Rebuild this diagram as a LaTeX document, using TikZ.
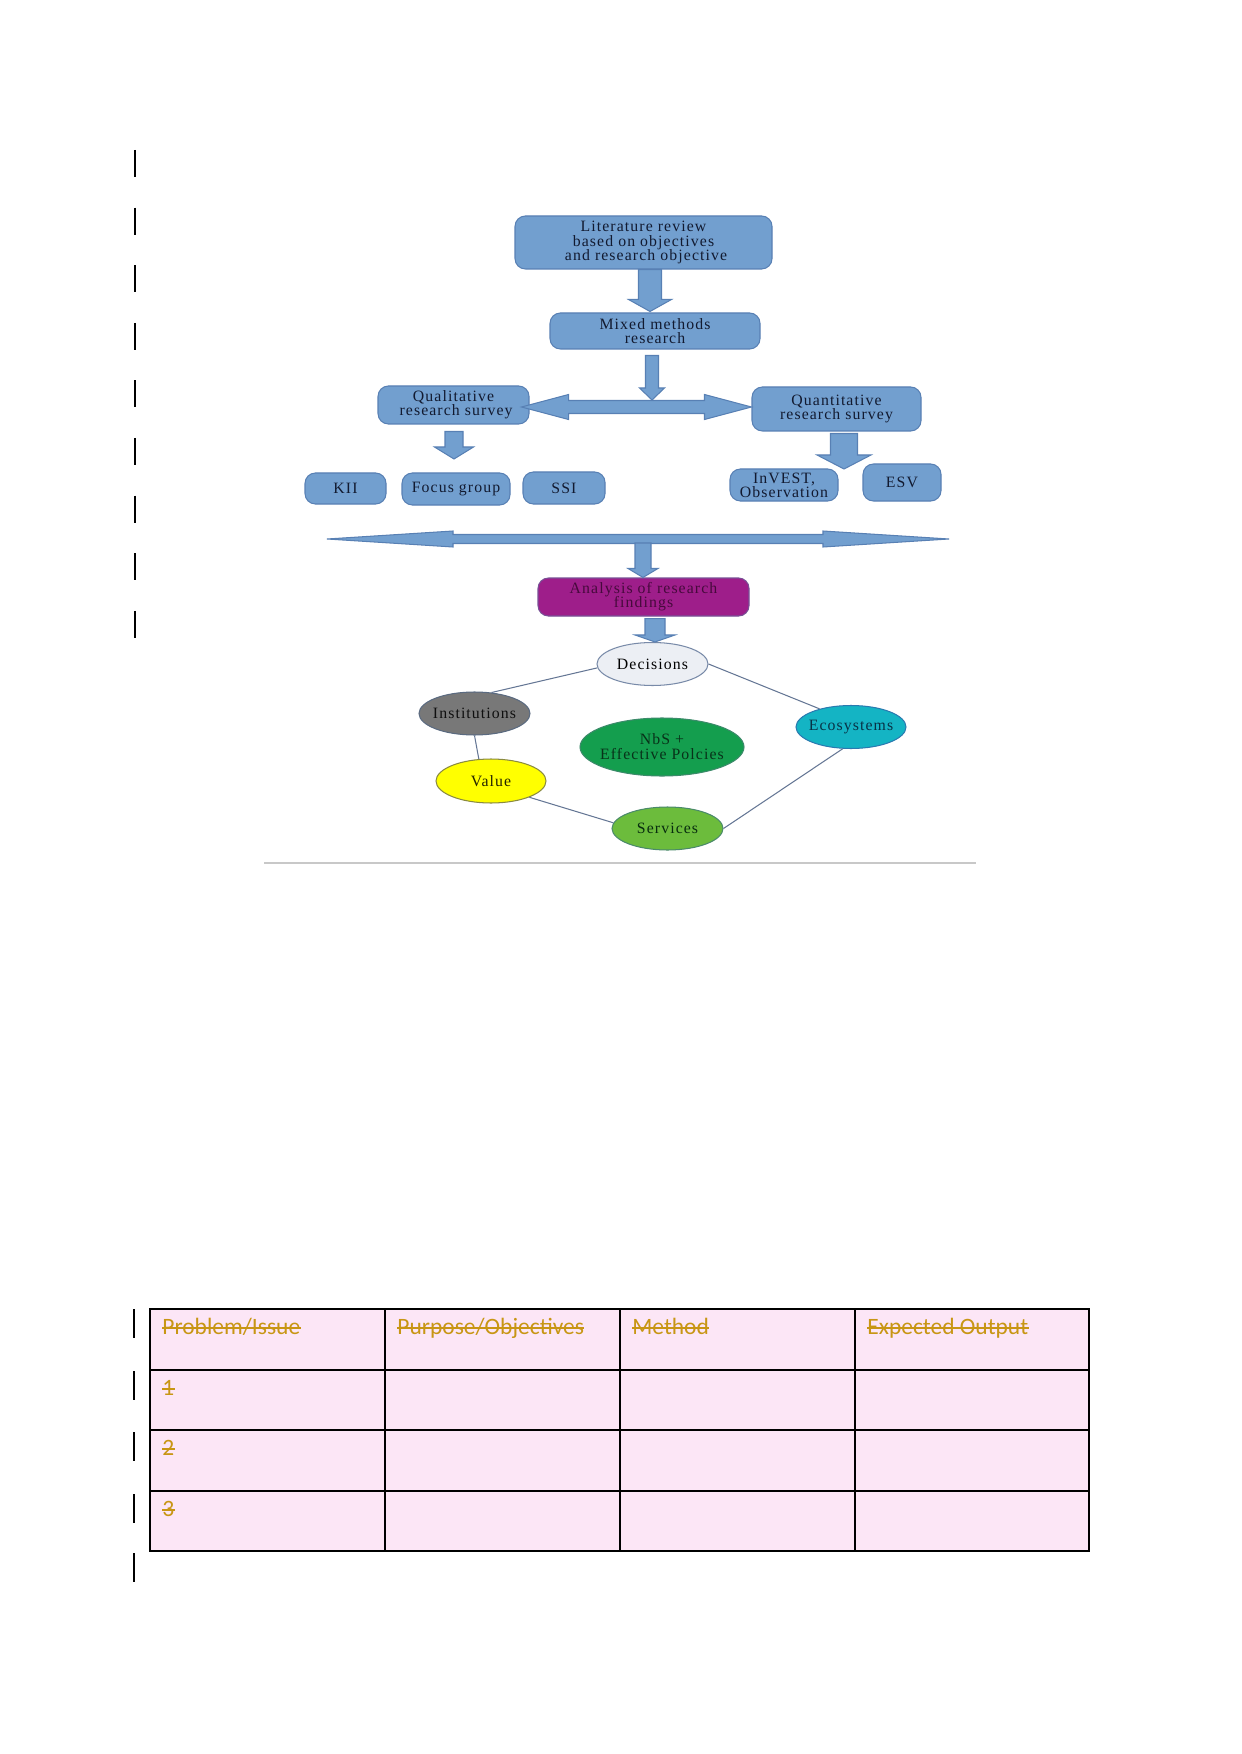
\documentclass[tikz,border=0pt]{standalone}
\usepackage{fontspec}
\setmainfont{Liberation Serif}
\newfontfamily\dfont[LetterSpace=7]{Liberation Serif}
\newfontfamily\tfont{Carlito}
\usetikzlibrary{shapes.geometric,calc}
\newcommand\pxl{0.16922mm}
\definecolor{boxfill}{RGB}{114,159,207}
\definecolor{boxline}{RGB}{88,128,180}
\definecolor{boxtext}{RGB}{18,26,48}
\definecolor{anafill}{RGB}{158,30,138}
\definecolor{anatext}{RGB}{70,10,60}
\definecolor{linkcol}{RGB}{100,118,148}
\definecolor{decfill}{RGB}{236,239,244}
\definecolor{instfill}{RGB}{120,120,120}
\definecolor{nbsfill}{RGB}{20,158,78}
\definecolor{ecofill}{RGB}{20,180,196}
\definecolor{valfill}{RGB}{255,255,0}
\definecolor{servfill}{RGB}{108,188,60}
\definecolor{tabfill}{RGB}{252,230,246}
\definecolor{tabtext}{RGB}{200,150,20}
\newcommand\vblock[5]{%
  \filldraw[blockarrow] ($(#1)+(-#3,0)$) -- ($(#2)+(-#3,-#5)$) -- ($(#2)+(-#4,-#5)$) -- (#2) -- ($(#2)+(#4,-#5)$) -- ($(#2)+(#3,-#5)$) -- ($(#1)+(#3,0)$) -- cycle;}
\newcommand\hdouble[5]{%
  \filldraw[blockarrow] (#1) -- ($(#1)+(#5,-#4)$) -- ($(#1)+(#5,-#3)$) -- ($(#2)+(-#5,-#3)$) -- ($(#2)+(-#5,-#4)$) -- (#2) -- ($(#2)+(-#5,#4)$) -- ($(#2)+(-#5,#3)$) -- ($(#1)+(#5,#3)$) -- ($(#1)+(#5,#4)$) -- cycle;}
\newcommand\strike[1]{\draw[strikeline] ($(#1.base west)+(0,-6)$) -- ($(#1.base east)+(0,-6)$);}
\tikzset{
  dtext/.style={font={\dfont\fontsize{7.6}{6.8}\selectfont\lineskiplimit=-10pt}},
  box/.style={draw=boxline, fill=boxfill, rounded corners=5pt, line width=0.5pt, inner sep=0pt, align=center, dtext, text=boxtext},
  bw/.style={minimum width={#1*\pxl}},
  bh/.style={minimum height={#1*\pxl}},
  oval/.style={ellipse, line width=0.5pt, inner sep=0pt},
  ltext/.style={dtext, align=center, inner sep=0pt},
  blockarrow/.style={fill=boxfill, draw=boxline, line width=0.5pt, line join=miter},
  link/.style={draw=linkcol, line width=0.5pt},
  bar/.style={draw=black, line width=1pt},
  grid/.style={draw=black, line width=0.7pt},
  celltext/.style={anchor=base west, inner sep=0pt, text=tabtext, font={\tfont\fontsize{11.3}{13}\selectfont}},
  strikeline/.style={draw=tabtext, line width=0.6pt}
}
\begin{document}
\begin{tikzpicture}[x=0.16922mm, y=-0.16922mm]
\useasboundingbox (0,0) rectangle (1241,1754);
\fill[white] (0,0) rectangle (1241,1754);

% margin change bars
\foreach \k in {0,...,8} \draw[bar] (135,{150+57.6*\k}) -- ++(0,27);
\foreach \yy in {1309,1371,1432,1494,1553} \draw[bar] (134,\yy) -- ++(0,29);

% boxes
\node[box, bw=257, bh=53] (lit) at (643.5,242.5) {Literature review\\based on objectives\\\ and research objective};
\node[box, bw=210, bh=36] (mixed) at (655,331) {Mixed methods\\research};
\node[box, bw=151, bh=38] (qual) at (453.5,405) {Qualitative\\\ research survey};
\node[box, bw=169, bh=44] (quant) at (836.5,409) {Quantitative\\research survey};
\node[box, bw=81, bh=31] (kii) at (345.5,488.5) {KII};
\node[box, bw=108, bh=32] (focus) at (456,489) {Focus group};
\node[box, bw=82, bh=32] (ssi) at (564,488) {SSI};
\node[box, bw=108, bh=32] (invest) at (784,485) {InVEST,\\Observation};
\node[box, bw=78, bh=37] (esv) at (902,482.5) {ESV};
\node[box, bw=211, bh=38, fill=anafill, draw={rgb,255:red,120;green,80;blue,150}, text=anatext] (ana) at (643.5,597) {Analysis of research\\findings};

% ellipses
\node[oval, draw={rgb,255:red,120;green,138;blue,168}, fill=decfill, minimum width={111*\pxl}, minimum height={43*\pxl},
  label={[ltext, text=black]center:Decisions}] (dec) at (652.5,664) {};
\node[oval, draw={rgb,255:red,90;green,106;blue,128}, fill=instfill, minimum width={111*\pxl}, minimum height={43*\pxl},
  label={[ltext, text={rgb,255:red,15;green,15;blue,15}]center:Institutions}] (inst) at (474.5,713.5) {};
\node[oval, draw={rgb,255:red,60;green,138;blue,106}, fill=nbsfill, minimum width={164*\pxl}, minimum height={58*\pxl},
  label={[ltext, text={rgb,255:red,8;green,50;blue,25}, font={\dfont\fontsize{7.6}{7.2}\selectfont\lineskiplimit=-10pt}]center:NbS +\\Effective Polcies}] (nbs) at (662,747) {};
\node[oval, draw={rgb,255:red,42;green,122;blue,176}, fill=ecofill, minimum width={110*\pxl}, minimum height={43*\pxl},
  label={[ltext, text={rgb,255:red,8;green,50;blue,70}]center:Ecosystems}] (eco) at (851,727) {};
\node[oval, draw={rgb,255:red,138;green,138;blue,64}, fill=valfill, minimum width={110*\pxl}, minimum height={44*\pxl},
  label={[ltext, text={rgb,255:red,35;green,35;blue,0}]center:Value}] (val) at (491,781) {};
\node[oval, draw={rgb,255:red,74;green,138;blue,106}, fill=servfill, minimum width={111*\pxl}, minimum height={43*\pxl},
  label={[ltext, text={rgb,255:red,8;green,45;blue,15}]center:Services}] (serv) at (667.5,828.5) {};

% links
\draw[link] (dec.184) -- (inst.51);
\draw[link] (dec.east) -- (eco.150);
\draw[link] (inst.south) -- (val.119);
\draw[link] (val.-23) -- (serv.174);
\draw[link] (serv.east) -- (eco.249);

% block arrows
\coordinate (a1s) at ($(lit.south)+(6.5,0)$);
\coordinate (a1t) at ($(mixed.north)+(-5,-1)$);
\vblock{a1s}{a1t}{11.5}{21.5}{12}
\coordinate (a2s) at ($(mixed.south)+(-3,6)$);
\coordinate (split) at (652,400);
\vblock{a2s}{split}{6.5}{12.5}{12}
\coordinate (qL) at ($(qual.east)+(-8,2)$);
\coordinate (qR) at ($(quant.west)+(0,-2)$);
\hdouble{qL}{qR}{6.5}{12.5}{47}
\coordinate (a4s) at ($(qual.south)+(0.5,7)$);
\coordinate (a4t) at (454,459);
\vblock{a4s}{a4t}{9}{19.5}{12}
\coordinate (a5s) at ($(quant.south)+(7.5,2)$);
\coordinate (a5t) at (844,469);
\vblock{a5s}{a5t}{13.5}{27}{14}
\coordinate (bigL) at (327,539);
\coordinate (bigR) at (949,539);
\hdouble{bigL}{bigR}{4.5}{8}{126}
\coordinate (bigC) at (643,543);
\coordinate (a7t) at ($(ana.north)+(-0.5,0)$);
\vblock{bigC}{a7t}{8}{15}{9}
\coordinate (a8s) at ($(ana.south)+(11.5,2)$);
\coordinate (a8t) at ($(dec.north)+(2.5,0)$);
\vblock{a8s}{a8t}{10}{20}{7}

% rule
\draw[draw={rgb,255:red,200;green,200;blue,200}, line width=0.8pt] (264,863) -- (976,863);

% table
\fill[tabfill] (150,1309) rectangle (1089,1551);
\draw[grid] (150,1309) rectangle (1089,1551);
\foreach \yy in {1370,1430,1491} \draw[grid] (150,\yy) -- (1089,\yy);
\foreach \xx in {385,620,855} \draw[grid] (\xx,1309) -- (\xx,1551);
\node[celltext] (h1) at (162,1334) {Problem/Issue};
\node[celltext] (h2) at (397,1334) {Purpose/Objectives};
\node[celltext] (h3) at (632,1334) {Method};
\node[celltext] (h4) at (867,1334) {Expected Output};
\node[celltext] (r1) at (162,1395) {1};
\node[celltext] (r2) at (162,1455) {2};
\node[celltext] (r3) at (162,1516) {3};
\foreach \n in {h1,h2,h3,h4,r1,r2,r3} {\strike{\n}}
\end{tikzpicture}
\end{document}
